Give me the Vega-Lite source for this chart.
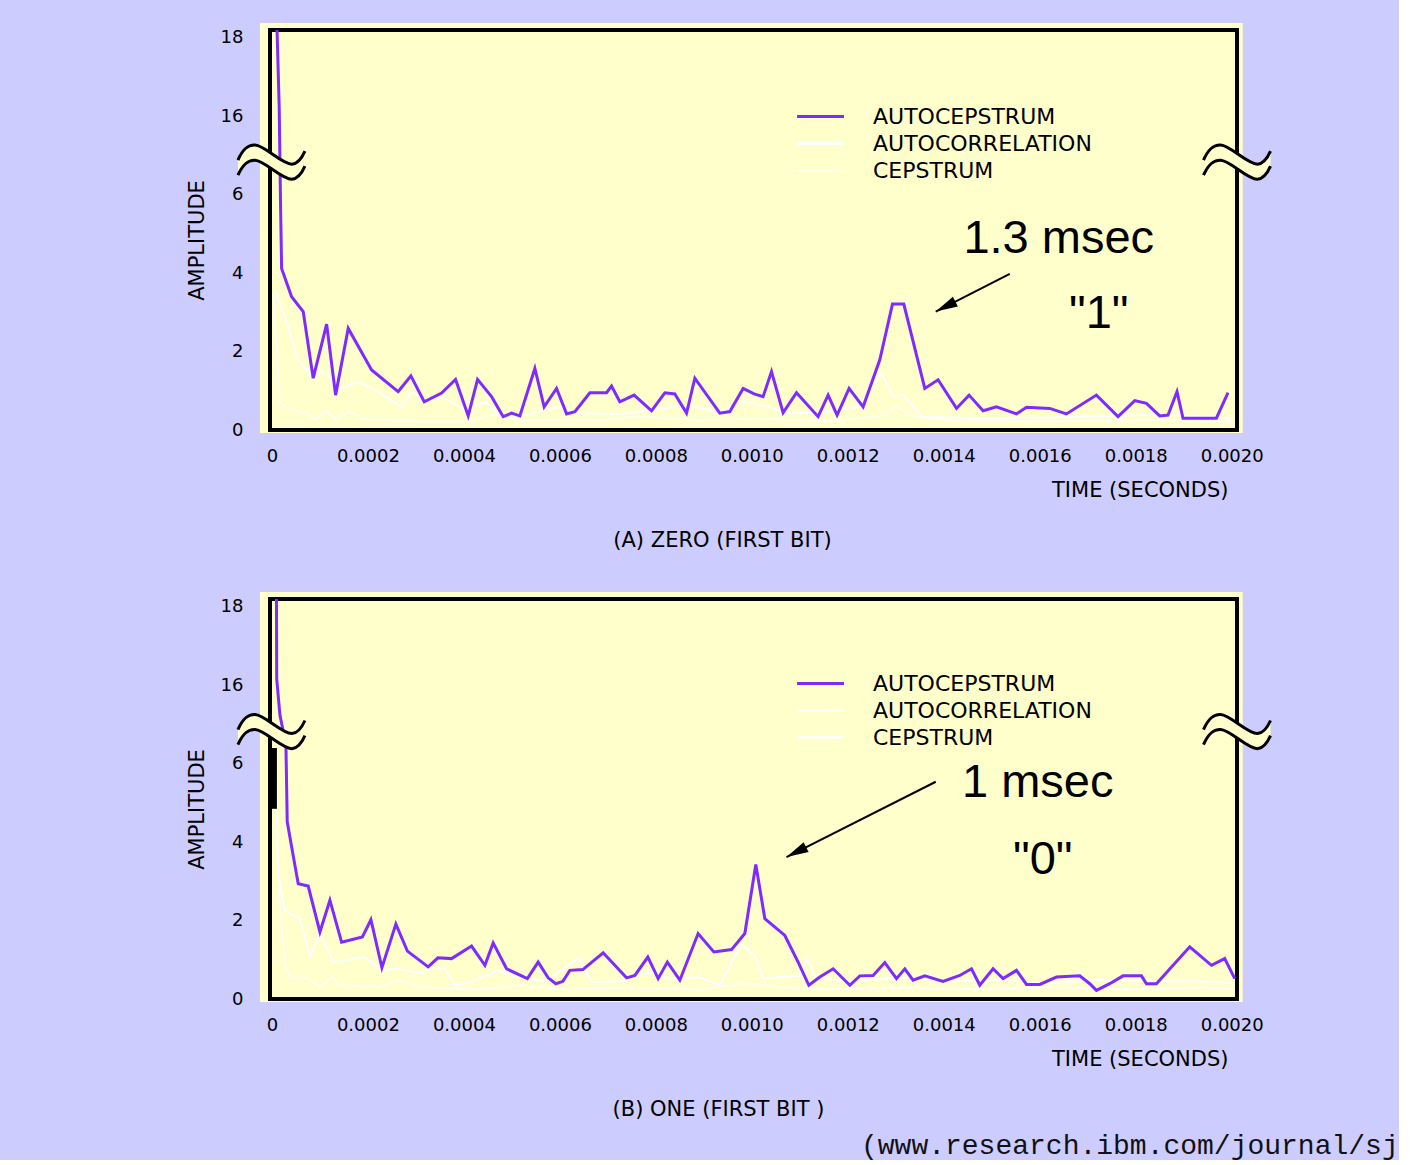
{
"$schema": "https://vega.github.io/schema/vega-lite/v6.json",
"background": "#ccccff",
"padding": {"left": 186, "top": 22, "right": 0, "bottom": 0},
"spacing": 40,
"title": {"text": "(www.research.ibm.com/journal/sj", "orient": "bottom", "anchor": "start", "frame": "bounds", "font": "Liberation Mono", "fontSize": 28, "fontWeight": "normal", "color": "#111", "dx": 675, "offset": 12},
"config": {
  "view": {"stroke": null, "fill": "#ffffcc"},
  "axis": {"grid": false, "domain": false, "ticks": false, "labelColor": "#000", "labelFont": "DejaVu Sans", "labelFontSize": 18, "titleFont": "DejaVu Sans", "titleFontSize": 21, "titleFontWeight": "normal", "titleColor": "#000", "labelOverlap": false},
  "axisX": {"labelExpr": "datum.value == 0 ? '0' : format(datum.value, '.4f')", "labelPadding": 17, "titleX": 958, "titleY": 60, "titleAlign": "right", "titleBaseline": "middle", "labelFlush": false, "labelBound": false},
  "axisY": {"titleX": -67, "titleY": 210, "titleAngle": 270, "titleAlign": "center", "titleBaseline": "alphabetic", "labelPadding": 27},
  "title": {"font": "DejaVu Sans", "fontSize": 21, "fontWeight": "normal", "color": "#000"}
},
"resolve": {"scale": {"color": "independent"}, "legend": {"color": "independent"}},
"datasets": {
"curves": [
{"panel":"A","series":"AUTOCEPSTRUM","time":0.0000098,"amplitude":18.6},
{"panel":"A","series":"AUTOCEPSTRUM","time":0.0000152,"amplitude":16.21},
{"panel":"A","series":"AUTOCEPSTRUM","time":0.0000181,"amplitude":5.66},
{"panel":"A","series":"AUTOCEPSTRUM","time":0.0000202,"amplitude":4.12},
{"panel":"A","series":"AUTOCEPSTRUM","time":0.0000410,"amplitude":3.40},
{"panel":"A","series":"AUTOCEPSTRUM","time":0.0000652,"amplitude":3.02},
{"panel":"A","series":"AUTOCEPSTRUM","time":0.0000860,"amplitude":1.32},
{"panel":"A","series":"AUTOCEPSTRUM","time":0.0001140,"amplitude":2.70},
{"panel":"A","series":"AUTOCEPSTRUM","time":0.0001327,"amplitude":0.89},
{"panel":"A","series":"AUTOCEPSTRUM","time":0.0001590,"amplitude":2.59},
{"panel":"A","series":"AUTOCEPSTRUM","time":0.0002077,"amplitude":1.53},
{"panel":"A","series":"AUTOCEPSTRUM","time":0.0002631,"amplitude":0.98},
{"panel":"A","series":"AUTOCEPSTRUM","time":0.0002896,"amplitude":1.38},
{"panel":"A","series":"AUTOCEPSTRUM","time":0.0003173,"amplitude":0.72},
{"panel":"A","series":"AUTOCEPSTRUM","time":0.0003535,"amplitude":0.94},
{"panel":"A","series":"AUTOCEPSTRUM","time":0.0003827,"amplitude":1.29},
{"panel":"A","series":"AUTOCEPSTRUM","time":0.0004090,"amplitude":0.36},
{"panel":"A","series":"AUTOCEPSTRUM","time":0.0004285,"amplitude":1.29},
{"panel":"A","series":"AUTOCEPSTRUM","time":0.0004577,"amplitude":0.85},
{"panel":"A","series":"AUTOCEPSTRUM","time":0.0004819,"amplitude":0.34},
{"panel":"A","series":"AUTOCEPSTRUM","time":0.0004994,"amplitude":0.43},
{"panel":"A","series":"AUTOCEPSTRUM","time":0.0005167,"amplitude":0.36},
{"panel":"A","series":"AUTOCEPSTRUM","time":0.0005479,"amplitude":1.57},
{"panel":"A","series":"AUTOCEPSTRUM","time":0.0005673,"amplitude":0.59},
{"panel":"A","series":"AUTOCEPSTRUM","time":0.0005931,"amplitude":1.06},
{"panel":"A","series":"AUTOCEPSTRUM","time":0.0006140,"amplitude":0.41},
{"panel":"A","series":"AUTOCEPSTRUM","time":0.0006313,"amplitude":0.47},
{"panel":"A","series":"AUTOCEPSTRUM","time":0.0006625,"amplitude":0.95},
{"panel":"A","series":"AUTOCEPSTRUM","time":0.0006973,"amplitude":0.95},
{"panel":"A","series":"AUTOCEPSTRUM","time":0.0007077,"amplitude":1.12},
{"panel":"A","series":"AUTOCEPSTRUM","time":0.0007250,"amplitude":0.72},
{"panel":"A","series":"AUTOCEPSTRUM","time":0.0007548,"amplitude":0.89},
{"panel":"A","series":"AUTOCEPSTRUM","time":0.0007910,"amplitude":0.49},
{"panel":"A","series":"AUTOCEPSTRUM","time":0.0008188,"amplitude":0.95},
{"panel":"A","series":"AUTOCEPSTRUM","time":0.0008396,"amplitude":0.92},
{"panel":"A","series":"AUTOCEPSTRUM","time":0.0008640,"amplitude":0.43},
{"panel":"A","series":"AUTOCEPSTRUM","time":0.0008813,"amplitude":1.32},
{"panel":"A","series":"AUTOCEPSTRUM","time":0.0009333,"amplitude":0.43},
{"panel":"A","series":"AUTOCEPSTRUM","time":0.0009542,"amplitude":0.47},
{"panel":"A","series":"AUTOCEPSTRUM","time":0.0009819,"amplitude":1.06},
{"panel":"A","series":"AUTOCEPSTRUM","time":0.0010048,"amplitude":0.92},
{"panel":"A","series":"AUTOCEPSTRUM","time":0.0010235,"amplitude":0.85},
{"panel":"A","series":"AUTOCEPSTRUM","time":0.0010410,"amplitude":1.49},
{"panel":"A","series":"AUTOCEPSTRUM","time":0.0010652,"amplitude":0.44},
{"panel":"A","series":"AUTOCEPSTRUM","time":0.0010931,"amplitude":0.95},
{"panel":"A","series":"AUTOCEPSTRUM","time":0.0011381,"amplitude":0.34},
{"panel":"A","series":"AUTOCEPSTRUM","time":0.0011590,"amplitude":0.89},
{"panel":"A","series":"AUTOCEPSTRUM","time":0.0011777,"amplitude":0.38},
{"panel":"A","series":"AUTOCEPSTRUM","time":0.0012027,"amplitude":1.06},
{"panel":"A","series":"AUTOCEPSTRUM","time":0.0012319,"amplitude":0.59},
{"panel":"A","series":"AUTOCEPSTRUM","time":0.0012667,"amplitude":1.79},
{"panel":"A","series":"AUTOCEPSTRUM","time":0.0012931,"amplitude":3.21},
{"panel":"A","series":"AUTOCEPSTRUM","time":0.0013167,"amplitude":3.21},
{"panel":"A","series":"AUTOCEPSTRUM","time":0.0013604,"amplitude":1.06},
{"panel":"A","series":"AUTOCEPSTRUM","time":0.0013881,"amplitude":1.28},
{"panel":"A","series":"AUTOCEPSTRUM","time":0.0014265,"amplitude":0.55},
{"panel":"A","series":"AUTOCEPSTRUM","time":0.0014527,"amplitude":0.89},
{"panel":"A","series":"AUTOCEPSTRUM","time":0.0014819,"amplitude":0.49},
{"panel":"A","series":"AUTOCEPSTRUM","time":0.0015098,"amplitude":0.59},
{"panel":"A","series":"AUTOCEPSTRUM","time":0.0015515,"amplitude":0.41},
{"panel":"A","series":"AUTOCEPSTRUM","time":0.0015723,"amplitude":0.58},
{"panel":"A","series":"AUTOCEPSTRUM","time":0.0016208,"amplitude":0.55},
{"panel":"A","series":"AUTOCEPSTRUM","time":0.0016556,"amplitude":0.41},
{"panel":"A","series":"AUTOCEPSTRUM","time":0.0017181,"amplitude":0.89},
{"panel":"A","series":"AUTOCEPSTRUM","time":0.0017631,"amplitude":0.34},
{"panel":"A","series":"AUTOCEPSTRUM","time":0.0017979,"amplitude":0.75},
{"panel":"A","series":"AUTOCEPSTRUM","time":0.0018223,"amplitude":0.68},
{"panel":"A","series":"AUTOCEPSTRUM","time":0.0018500,"amplitude":0.36},
{"panel":"A","series":"AUTOCEPSTRUM","time":0.0018673,"amplitude":0.38},
{"panel":"A","series":"AUTOCEPSTRUM","time":0.0018860,"amplitude":0.98},
{"panel":"A","series":"AUTOCEPSTRUM","time":0.0018985,"amplitude":0.30},
{"panel":"A","series":"AUTOCEPSTRUM","time":0.0019681,"amplitude":0.30},
{"panel":"A","series":"AUTOCEPSTRUM","time":0.0019923,"amplitude":0.95},
{"panel":"A","series":"AUTOCORRELATION","time":0.0000063,"amplitude":3.57},
{"panel":"A","series":"AUTOCORRELATION","time":0.0000271,"amplitude":2.89},
{"panel":"A","series":"AUTOCORRELATION","time":0.0000548,"amplitude":1.79},
{"panel":"A","series":"AUTOCORRELATION","time":0.0000854,"amplitude":1.36},
{"panel":"A","series":"AUTOCORRELATION","time":0.0001104,"amplitude":1.53},
{"panel":"A","series":"AUTOCORRELATION","time":0.0001348,"amplitude":1.02},
{"panel":"A","series":"AUTOCORRELATION","time":0.0001798,"amplitude":1.23},
{"panel":"A","series":"AUTOCORRELATION","time":0.0002215,"amplitude":0.98},
{"panel":"A","series":"AUTOCORRELATION","time":0.0002702,"amplitude":0.59},
{"panel":"A","series":"AUTOCORRELATION","time":0.0002910,"amplitude":0.98},
{"panel":"A","series":"AUTOCORRELATION","time":0.0003188,"amplitude":0.77},
{"panel":"A","series":"AUTOCORRELATION","time":0.0003604,"amplitude":0.81},
{"panel":"A","series":"AUTOCORRELATION","time":0.0004021,"amplitude":0.51},
{"panel":"A","series":"AUTOCORRELATION","time":0.0004438,"amplitude":0.72},
{"panel":"A","series":"AUTOCORRELATION","time":0.0004715,"amplitude":0.43},
{"panel":"A","series":"AUTOCORRELATION","time":0.0005131,"amplitude":0.34},
{"panel":"A","series":"AUTOCORRELATION","time":0.0005965,"amplitude":0.59},
{"panel":"A","series":"AUTOCORRELATION","time":0.0006452,"amplitude":0.43},
{"panel":"A","series":"AUTOCORRELATION","time":0.0007250,"amplitude":0.40},
{"panel":"A","series":"AUTOCORRELATION","time":0.0008396,"amplitude":0.59},
{"panel":"A","series":"AUTOCORRELATION","time":0.0008813,"amplitude":0.59},
{"panel":"A","series":"AUTOCORRELATION","time":0.0009333,"amplitude":0.45},
{"panel":"A","series":"AUTOCORRELATION","time":0.0009854,"amplitude":0.72},
{"panel":"A","series":"AUTOCORRELATION","time":0.0010375,"amplitude":0.59},
{"panel":"A","series":"AUTOCORRELATION","time":0.0010646,"amplitude":0.43},
{"panel":"A","series":"AUTOCORRELATION","time":0.0011417,"amplitude":0.45},
{"panel":"A","series":"AUTOCORRELATION","time":0.0012250,"amplitude":0.59},
{"panel":"A","series":"AUTOCORRELATION","time":0.0012702,"amplitude":1.45},
{"panel":"A","series":"AUTOCORRELATION","time":0.0012944,"amplitude":0.85},
{"panel":"A","series":"AUTOCORRELATION","time":0.0013152,"amplitude":0.89},
{"panel":"A","series":"AUTOCORRELATION","time":0.0013431,"amplitude":0.51},
{"panel":"A","series":"AUTOCORRELATION","time":0.0013563,"amplitude":0.34},
{"panel":"A","series":"AUTOCORRELATION","time":0.0014750,"amplitude":0.30},
{"panel":"A","series":"AUTOCORRELATION","time":0.0016208,"amplitude":0.32},
{"panel":"A","series":"AUTOCORRELATION","time":0.0017250,"amplitude":0.35},
{"panel":"A","series":"AUTOCORRELATION","time":0.0018500,"amplitude":0.40},
{"panel":"A","series":"AUTOCORRELATION","time":0.0020000,"amplitude":0.30},
{"panel":"A","series":"CEPSTRUM","time":0.0000027,"amplitude":3.49},
{"panel":"A","series":"CEPSTRUM","time":0.0000167,"amplitude":0.68},
{"panel":"A","series":"CEPSTRUM","time":0.0000479,"amplitude":0.47},
{"panel":"A","series":"CEPSTRUM","time":0.0000723,"amplitude":0.43},
{"panel":"A","series":"CEPSTRUM","time":0.0000896,"amplitude":0.26},
{"panel":"A","series":"CEPSTRUM","time":0.0001140,"amplitude":0.47},
{"panel":"A","series":"CEPSTRUM","time":0.0001348,"amplitude":0.26},
{"panel":"A","series":"CEPSTRUM","time":0.0001590,"amplitude":0.47},
{"panel":"A","series":"CEPSTRUM","time":0.0002006,"amplitude":0.26},
{"panel":"A","series":"CEPSTRUM","time":0.0003083,"amplitude":0.22},
{"panel":"A","series":"CEPSTRUM","time":0.0004125,"amplitude":0.22},
{"panel":"A","series":"CEPSTRUM","time":0.0004604,"amplitude":0.40},
{"panel":"A","series":"CEPSTRUM","time":0.0005167,"amplitude":0.24},
{"panel":"A","series":"CEPSTRUM","time":0.0006833,"amplitude":0.24},
{"panel":"A","series":"CEPSTRUM","time":0.0007667,"amplitude":0.35},
{"panel":"A","series":"CEPSTRUM","time":0.0008917,"amplitude":0.24},
{"panel":"A","series":"CEPSTRUM","time":0.0010167,"amplitude":0.30},
{"panel":"A","series":"CEPSTRUM","time":0.0011417,"amplitude":0.22},
{"panel":"A","series":"CEPSTRUM","time":0.0012667,"amplitude":0.35},
{"panel":"A","series":"CEPSTRUM","time":0.0013015,"amplitude":0.59},
{"panel":"A","series":"CEPSTRUM","time":0.0013396,"amplitude":0.35},
{"panel":"A","series":"CEPSTRUM","time":0.0014333,"amplitude":0.22},
{"panel":"A","series":"CEPSTRUM","time":0.0016208,"amplitude":0.22},
{"panel":"A","series":"CEPSTRUM","time":0.0018292,"amplitude":0.26},
{"panel":"A","series":"CEPSTRUM","time":0.0020000,"amplitude":0.22},
{"panel":"B","series":"AUTOCEPSTRUM","time":0.0000094,"amplitude":18.6},
{"panel":"B","series":"AUTOCEPSTRUM","time":0.0000100,"amplitude":16.16},
{"panel":"B","series":"AUTOCEPSTRUM","time":0.0000167,"amplitude":15.24},
{"panel":"B","series":"AUTOCEPSTRUM","time":0.0000292,"amplitude":6.48},
{"panel":"B","series":"AUTOCEPSTRUM","time":0.0000319,"amplitude":4.52},
{"panel":"B","series":"AUTOCEPSTRUM","time":0.0000479,"amplitude":3.41},
{"panel":"B","series":"AUTOCEPSTRUM","time":0.0000548,"amplitude":2.94},
{"panel":"B","series":"AUTOCEPSTRUM","time":0.0000756,"amplitude":2.88},
{"panel":"B","series":"AUTOCEPSTRUM","time":0.0001000,"amplitude":1.71},
{"panel":"B","series":"AUTOCEPSTRUM","time":0.0001208,"amplitude":2.52},
{"panel":"B","series":"AUTOCEPSTRUM","time":0.0001452,"amplitude":1.45},
{"panel":"B","series":"AUTOCEPSTRUM","time":0.0001885,"amplitude":1.58},
{"panel":"B","series":"AUTOCEPSTRUM","time":0.0002063,"amplitude":2.02},
{"panel":"B","series":"AUTOCEPSTRUM","time":0.0002292,"amplitude":0.80},
{"panel":"B","series":"AUTOCEPSTRUM","time":0.0002583,"amplitude":1.91},
{"panel":"B","series":"AUTOCEPSTRUM","time":0.0002823,"amplitude":1.22},
{"panel":"B","series":"AUTOCEPSTRUM","time":0.0003256,"amplitude":0.82},
{"panel":"B","series":"AUTOCEPSTRUM","time":0.0003458,"amplitude":1.05},
{"panel":"B","series":"AUTOCEPSTRUM","time":0.0003744,"amplitude":1.03},
{"panel":"B","series":"AUTOCEPSTRUM","time":0.0004160,"amplitude":1.35},
{"panel":"B","series":"AUTOCEPSTRUM","time":0.0004438,"amplitude":0.86},
{"panel":"B","series":"AUTOCEPSTRUM","time":0.0004610,"amplitude":1.43},
{"panel":"B","series":"AUTOCEPSTRUM","time":0.0004890,"amplitude":0.77},
{"panel":"B","series":"AUTOCEPSTRUM","time":0.0005323,"amplitude":0.52},
{"panel":"B","series":"AUTOCEPSTRUM","time":0.0005548,"amplitude":0.94},
{"panel":"B","series":"AUTOCEPSTRUM","time":0.0005756,"amplitude":0.54},
{"panel":"B","series":"AUTOCEPSTRUM","time":0.0005917,"amplitude":0.39},
{"panel":"B","series":"AUTOCEPSTRUM","time":0.0006063,"amplitude":0.45},
{"panel":"B","series":"AUTOCEPSTRUM","time":0.0006208,"amplitude":0.73},
{"panel":"B","series":"AUTOCEPSTRUM","time":0.0006479,"amplitude":0.75},
{"panel":"B","series":"AUTOCEPSTRUM","time":0.0006902,"amplitude":1.18},
{"panel":"B","series":"AUTOCEPSTRUM","time":0.0007390,"amplitude":0.54},
{"panel":"B","series":"AUTOCEPSTRUM","time":0.0007563,"amplitude":0.60},
{"panel":"B","series":"AUTOCEPSTRUM","time":0.0007833,"amplitude":1.07},
{"panel":"B","series":"AUTOCEPSTRUM","time":0.0008048,"amplitude":0.52},
{"panel":"B","series":"AUTOCEPSTRUM","time":0.0008240,"amplitude":0.94},
{"panel":"B","series":"AUTOCEPSTRUM","time":0.0008500,"amplitude":0.48},
{"panel":"B","series":"AUTOCEPSTRUM","time":0.0008881,"amplitude":1.67},
{"panel":"B","series":"AUTOCEPSTRUM","time":0.0009208,"amplitude":1.20},
{"panel":"B","series":"AUTOCEPSTRUM","time":0.0009577,"amplitude":1.26},
{"panel":"B","series":"AUTOCEPSTRUM","time":0.0009854,"amplitude":1.67},
{"panel":"B","series":"AUTOCEPSTRUM","time":0.0010083,"amplitude":3.43},
{"panel":"B","series":"AUTOCEPSTRUM","time":0.0010271,"amplitude":2.05},
{"panel":"B","series":"AUTOCEPSTRUM","time":0.0010688,"amplitude":1.62},
{"panel":"B","series":"AUTOCEPSTRUM","time":0.0010965,"amplitude":0.94},
{"panel":"B","series":"AUTOCEPSTRUM","time":0.0011188,"amplitude":0.35},
{"panel":"B","series":"AUTOCEPSTRUM","time":0.0011417,"amplitude":0.56},
{"panel":"B","series":"AUTOCEPSTRUM","time":0.0011694,"amplitude":0.77},
{"panel":"B","series":"AUTOCEPSTRUM","time":0.0012042,"amplitude":0.35},
{"panel":"B","series":"AUTOCEPSTRUM","time":0.0012250,"amplitude":0.59},
{"panel":"B","series":"AUTOCEPSTRUM","time":0.0012527,"amplitude":0.60},
{"panel":"B","series":"AUTOCEPSTRUM","time":0.0012771,"amplitude":0.93},
{"panel":"B","series":"AUTOCEPSTRUM","time":0.0013015,"amplitude":0.52},
{"panel":"B","series":"AUTOCEPSTRUM","time":0.0013188,"amplitude":0.77},
{"panel":"B","series":"AUTOCEPSTRUM","time":0.0013360,"amplitude":0.48},
{"panel":"B","series":"AUTOCEPSTRUM","time":0.0013604,"amplitude":0.59},
{"panel":"B","series":"AUTOCEPSTRUM","time":0.0013985,"amplitude":0.45},
{"panel":"B","series":"AUTOCEPSTRUM","time":0.0014333,"amplitude":0.60},
{"panel":"B","series":"AUTOCEPSTRUM","time":0.0014577,"amplitude":0.77},
{"panel":"B","series":"AUTOCEPSTRUM","time":0.0014750,"amplitude":0.35},
{"panel":"B","series":"AUTOCEPSTRUM","time":0.0015027,"amplitude":0.77},
{"panel":"B","series":"AUTOCEPSTRUM","time":0.0015235,"amplitude":0.52},
{"panel":"B","series":"AUTOCEPSTRUM","time":0.0015515,"amplitude":0.73},
{"panel":"B","series":"AUTOCEPSTRUM","time":0.0015723,"amplitude":0.37},
{"panel":"B","series":"AUTOCEPSTRUM","time":0.0016000,"amplitude":0.37},
{"panel":"B","series":"AUTOCEPSTRUM","time":0.0016348,"amplitude":0.56},
{"panel":"B","series":"AUTOCEPSTRUM","time":0.0016833,"amplitude":0.59},
{"panel":"B","series":"AUTOCEPSTRUM","time":0.0017042,"amplitude":0.39},
{"panel":"B","series":"AUTOCEPSTRUM","time":0.0017181,"amplitude":0.22},
{"panel":"B","series":"AUTOCEPSTRUM","time":0.0017458,"amplitude":0.39},
{"panel":"B","series":"AUTOCEPSTRUM","time":0.0017735,"amplitude":0.59},
{"panel":"B","series":"AUTOCEPSTRUM","time":0.0018119,"amplitude":0.59},
{"panel":"B","series":"AUTOCEPSTRUM","time":0.0018223,"amplitude":0.39},
{"panel":"B","series":"AUTOCEPSTRUM","time":0.0018431,"amplitude":0.39},
{"panel":"B","series":"AUTOCEPSTRUM","time":0.0019125,"amplitude":1.33},
{"panel":"B","series":"AUTOCEPSTRUM","time":0.0019577,"amplitude":0.86},
{"panel":"B","series":"AUTOCEPSTRUM","time":0.0019854,"amplitude":1.03},
{"panel":"B","series":"AUTOCEPSTRUM","time":0.0020063,"amplitude":0.52},
{"panel":"B","series":"AUTOCORRELATION","time":0.0000104,"amplitude":4.77},
{"panel":"B","series":"AUTOCORRELATION","time":0.0000131,"amplitude":3.16},
{"panel":"B","series":"AUTOCORRELATION","time":0.0000271,"amplitude":2.26},
{"panel":"B","series":"AUTOCORRELATION","time":0.0000583,"amplitude":2.05},
{"panel":"B","series":"AUTOCORRELATION","time":0.0000792,"amplitude":1.07},
{"panel":"B","series":"AUTOCORRELATION","time":0.0001000,"amplitude":1.67},
{"panel":"B","series":"AUTOCORRELATION","time":0.0001277,"amplitude":0.94},
{"panel":"B","series":"AUTOCORRELATION","time":0.0001938,"amplitude":1.07},
{"panel":"B","series":"AUTOCORRELATION","time":0.0002285,"amplitude":0.73},
{"panel":"B","series":"AUTOCORRELATION","time":0.0002598,"amplitude":0.77},
{"panel":"B","series":"AUTOCORRELATION","time":0.0003119,"amplitude":0.65},
{"panel":"B","series":"AUTOCORRELATION","time":0.0003327,"amplitude":0.82},
{"panel":"B","series":"AUTOCORRELATION","time":0.0003604,"amplitude":0.77},
{"panel":"B","series":"AUTOCORRELATION","time":0.0003813,"amplitude":0.35},
{"panel":"B","series":"AUTOCORRELATION","time":0.0004160,"amplitude":0.43},
{"panel":"B","series":"AUTOCORRELATION","time":0.0004715,"amplitude":0.73},
{"panel":"B","series":"AUTOCORRELATION","time":0.0005131,"amplitude":0.56},
{"panel":"B","series":"AUTOCORRELATION","time":0.0005688,"amplitude":0.45},
{"panel":"B","series":"AUTOCORRELATION","time":0.0006381,"amplitude":1.03},
{"panel":"B","series":"AUTOCORRELATION","time":0.0006660,"amplitude":0.43},
{"panel":"B","series":"AUTOCORRELATION","time":0.0007250,"amplitude":0.45},
{"panel":"B","series":"AUTOCORRELATION","time":0.0007910,"amplitude":0.69},
{"panel":"B","series":"AUTOCORRELATION","time":0.0008292,"amplitude":0.50},
{"panel":"B","series":"AUTOCORRELATION","time":0.0008881,"amplitude":0.56},
{"panel":"B","series":"AUTOCORRELATION","time":0.0009333,"amplitude":0.35},
{"panel":"B","series":"AUTOCORRELATION","time":0.0009785,"amplitude":1.41},
{"panel":"B","series":"AUTOCORRELATION","time":0.0010063,"amplitude":1.11},
{"panel":"B","series":"AUTOCORRELATION","time":0.0010235,"amplitude":0.52},
{"panel":"B","series":"AUTOCORRELATION","time":0.0011000,"amplitude":0.60},
{"panel":"B","series":"AUTOCORRELATION","time":0.0011140,"amplitude":1.03},
{"panel":"B","series":"AUTOCORRELATION","time":0.0011348,"amplitude":0.52},
{"panel":"B","series":"AUTOCORRELATION","time":0.0012042,"amplitude":0.45},
{"panel":"B","series":"AUTOCORRELATION","time":0.0013083,"amplitude":0.55},
{"panel":"B","series":"AUTOCORRELATION","time":0.0014125,"amplitude":0.45},
{"panel":"B","series":"AUTOCORRELATION","time":0.0015167,"amplitude":0.50},
{"panel":"B","series":"AUTOCORRELATION","time":0.0016208,"amplitude":0.40},
{"panel":"B","series":"AUTOCORRELATION","time":0.0017250,"amplitude":0.50},
{"panel":"B","series":"AUTOCORRELATION","time":0.0018292,"amplitude":0.45},
{"panel":"B","series":"AUTOCORRELATION","time":0.0019333,"amplitude":0.45},
{"panel":"B","series":"AUTOCORRELATION","time":0.0020063,"amplitude":0.40},
{"panel":"B","series":"CEPSTRUM","time":0.0000131,"amplitude":2.81},
{"panel":"B","series":"CEPSTRUM","time":0.0000271,"amplitude":0.94},
{"panel":"B","series":"CEPSTRUM","time":0.0000375,"amplitude":0.56},
{"panel":"B","series":"CEPSTRUM","time":0.0000756,"amplitude":0.52},
{"panel":"B","series":"CEPSTRUM","time":0.0001000,"amplitude":0.31},
{"panel":"B","series":"CEPSTRUM","time":0.0001277,"amplitude":0.56},
{"panel":"B","series":"CEPSTRUM","time":0.0001381,"amplitude":0.35},
{"panel":"B","series":"CEPSTRUM","time":0.0002250,"amplitude":0.30},
{"panel":"B","series":"CEPSTRUM","time":0.0002631,"amplitude":0.48},
{"panel":"B","series":"CEPSTRUM","time":0.0003083,"amplitude":0.30},
{"panel":"B","series":"CEPSTRUM","time":0.0004333,"amplitude":0.25},
{"panel":"B","series":"CEPSTRUM","time":0.0005167,"amplitude":0.35},
{"panel":"B","series":"CEPSTRUM","time":0.0006000,"amplitude":0.25},
{"panel":"B","series":"CEPSTRUM","time":0.0007250,"amplitude":0.30},
{"panel":"B","series":"CEPSTRUM","time":0.0008917,"amplitude":0.25},
{"panel":"B","series":"CEPSTRUM","time":0.0009958,"amplitude":0.40},
{"panel":"B","series":"CEPSTRUM","time":0.0010583,"amplitude":0.30},
{"panel":"B","series":"CEPSTRUM","time":0.0011625,"amplitude":0.25},
{"panel":"B","series":"CEPSTRUM","time":0.0013083,"amplitude":0.30},
{"panel":"B","series":"CEPSTRUM","time":0.0014750,"amplitude":0.25},
{"panel":"B","series":"CEPSTRUM","time":0.0016208,"amplitude":0.30},
{"panel":"B","series":"CEPSTRUM","time":0.0017875,"amplitude":0.25},
{"panel":"B","series":"CEPSTRUM","time":0.0019333,"amplitude":0.30},
{"panel":"B","series":"CEPSTRUM","time":0.0020063,"amplitude":0.25}
]
},
"vconcat": [
{
  "width": 967, "height": 400,
  "title": {"text": "(A) ZERO (FIRST BIT)", "orient": "bottom", "anchor": "middle", "frame": "group", "dx": -31, "offset": 30},
  "encoding": {
    "x": {"type": "quantitative", "scale": {"domain": [-0.000004, 0.002011], "nice": false, "zero": false}, "axis": {"values": [0, 0.0002, 0.0004, 0.0006, 0.0008, 0.001, 0.0012, 0.0014, 0.0016, 0.0018, 0.002], "title": "TIME (SECONDS)"}},
    "y": {"type": "quantitative", "scale": {"domain": [0, 7, 15, 18.2], "range": [400, 125.49, 125.49, 0], "nice": false, "zero": false}, "axis": {"values": [0, 2, 4, 6, 16, 18], "title": "AMPLITUDE"}}
  },
  "layer": [
    {"data": {"values": [{}]}, "mark": {"type": "rect", "fill": "#ffffcc"},
     "encoding": {"x": {"datum": -0.000025}, "x2": {"datum": 0.0020229}, "y": {"datum": 18.38}, "y2": {"datum": -0.0765}}},
    {"data": {"values": [{}]}, "mark": {"type": "rect", "filled": false, "stroke": "#000", "strokeWidth": 4},
     "encoding": {"x": {"datum": -0.000004}, "x2": {"datum": 0.002011}, "y": {"datum": 0}, "y2": {"datum": 18.2}}},
    {"data": {"name": "curves"}, "transform": [{"filter": "datum.panel == 'A' && datum.series != 'AUTOCEPSTRUM'"}],
     "mark": {"type": "line", "strokeWidth": 2, "clip": true},
     "encoding": {"x": {"field": "time"}, "y": {"field": "amplitude"},
                  "color": {"field": "series", "type": "nominal", "scale": {"domain": ["AUTOCEPSTRUM", "AUTOCORRELATION", "CEPSTRUM"], "range": ["#7f2bff", "#ffffff", "#fffff2"]},
                            "legend": {"orient": "none", "legendX": 537, "legendY": 73, "title": null, "symbolType": "M-2,0L2,0", "symbolSize": 552, "symbolStrokeWidth": 3, "labelFont": "DejaVu Sans", "labelFontSize": 22, "labelColor": "#000", "labelOffset": 39, "labelLimit": 400, "rowPadding": 2, "padding": 0, "symbolOpacity": 1}}}},
    {"data": {"name": "curves"}, "transform": [{"filter": "datum.panel == 'A' && datum.series == 'AUTOCEPSTRUM'"}],
     "mark": {"type": "line", "strokeWidth": 3, "clip": true},
     "encoding": {"x": {"field": "time"}, "y": {"field": "amplitude"},
                  "color": {"field": "series", "type": "nominal", "scale": {"domain": ["AUTOCEPSTRUM", "AUTOCORRELATION", "CEPSTRUM"], "range": ["#7f2bff", "#ffffff", "#fffff2"]},
                            "legend": {"orient": "none", "legendX": 537, "legendY": 73, "title": null, "symbolType": "M-2,0L2,0", "symbolSize": 552, "symbolStrokeWidth": 3, "labelFont": "DejaVu Sans", "labelFontSize": 22, "labelColor": "#000", "labelOffset": 39, "labelLimit": 400, "rowPadding": 2, "padding": 0, "symbolOpacity": 1}}}},
    {"data": {"values": [{}]}, "mark": {"type": "point", "shape": "M-1,-0.06C-0.85,-0.4,-0.7,-0.52,-0.49,-0.51C-0.2,-0.5,0.3,0.06,0.61,0.06C0.8,0.05,0.92,-0.15,1,-0.33L1,0.12C0.92,0.3,0.8,0.5,0.61,0.51C0.3,0.51,-0.2,-0.05,-0.49,-0.06C-0.7,-0.07,-0.85,0.05,-1,0.39Z", "size": 4489, "filled": true, "fill": "#ffffcc", "strokeWidth": 0, "opacity": 1},
     "encoding": {"x": {"datum": -0.000001}, "y": {"datum": 6.83}}},
    {"data": {"values": [{}]}, "mark": {"type": "point", "shape": "M-1,-0.06C-0.85,-0.4,-0.7,-0.52,-0.49,-0.51C-0.2,-0.5,0.3,0.06,0.61,0.06C0.8,0.05,0.92,-0.15,1,-0.33M-1,0.39C-0.85,0.05,-0.7,-0.07,-0.49,-0.06C-0.2,-0.05,0.3,0.51,0.61,0.51C0.8,0.5,0.92,0.3,1,0.12", "size": 4489, "filled": false, "stroke": "#000", "strokeWidth": 3, "opacity": 1},
     "encoding": {"x": {"datum": -0.000001}, "y": {"datum": 6.83}}},
    {"data": {"values": [{}]}, "mark": {"type": "point", "shape": "M-1,-0.06C-0.85,-0.4,-0.7,-0.52,-0.49,-0.51C-0.2,-0.5,0.3,0.06,0.61,0.06C0.8,0.05,0.92,-0.15,1,-0.33L1,0.12C0.92,0.3,0.8,0.5,0.61,0.51C0.3,0.51,-0.2,-0.05,-0.49,-0.06C-0.7,-0.07,-0.85,0.05,-1,0.39Z", "size": 4489, "filled": true, "fill": "#ffffcc", "strokeWidth": 0, "opacity": 1},
     "encoding": {"x": {"datum": 0.002011}, "y": {"datum": 6.83}}},
    {"data": {"values": [{}]}, "mark": {"type": "point", "shape": "M-1,-0.06C-0.85,-0.4,-0.7,-0.52,-0.49,-0.51C-0.2,-0.5,0.3,0.06,0.61,0.06C0.8,0.05,0.92,-0.15,1,-0.33M-1,0.39C-0.85,0.05,-0.7,-0.07,-0.49,-0.06C-0.2,-0.05,0.3,0.51,0.61,0.51C0.8,0.5,0.92,0.3,1,0.12", "size": 4489, "filled": false, "stroke": "#000", "strokeWidth": 3, "opacity": 1},
     "encoding": {"x": {"datum": 0.002011}, "y": {"datum": 6.83}}},
    {"data": {"values": [{}]}, "mark": {"type": "text", "text": "1.3 msec", "font": "Liberation Sans", "fontSize": 47, "align": "center", "baseline": "alphabetic", "color": "#000"},
     "encoding": {"x": {"datum": 0.0016396}, "y": {"datum": 4.52}}},
    {"data": {"values": [{}]}, "mark": {"type": "text", "text": "\"1\"", "font": "Liberation Sans", "fontSize": 47, "align": "center", "baseline": "alphabetic", "color": "#000"},
     "encoding": {"x": {"datum": 0.0017229}, "y": {"datum": 2.60}}},
    {"data": {"values": [{}]}, "mark": {"type": "rule", "color": "#000", "strokeWidth": 2},
     "encoding": {"x": {"datum": 0.0015375}, "y": {"datum": 3.98}, "x2": {"datum": 0.0013833}, "y2": {"datum": 3.02}}},
    {"data": {"values": [{}]}, "mark": {"type": "point", "shape": "M0,0L-0.25,1L0.25,1Z", "size": 1936, "angle": 243, "filled": true, "color": "#000", "opacity": 1},
     "encoding": {"x": {"datum": 0.0013833}, "y": {"datum": 3.02}}}
  ]
},
{
  "width": 967, "height": 400,
  "title": {"text": "(B) ONE (FIRST BIT )", "orient": "bottom", "anchor": "middle", "frame": "group", "dx": -35, "offset": 30},
  "encoding": {
    "x": {"type": "quantitative", "scale": {"domain": [-0.000004, 0.002011], "nice": false, "zero": false}, "axis": {"values": [0, 0.0002, 0.0004, 0.0006, 0.0008, 0.001, 0.0012, 0.0014, 0.0016, 0.0018, 0.002], "title": "TIME (SECONDS)"}},
    "y": {"type": "quantitative", "scale": {"domain": [0, 7, 15, 18.2], "range": [400, 125.49, 125.49, 0], "nice": false, "zero": false}, "axis": {"values": [0, 2, 4, 6, 16, 18], "title": "AMPLITUDE"}}
  },
  "layer": [
    {"data": {"values": [{}]}, "mark": {"type": "rect", "fill": "#ffffcc"},
     "encoding": {"x": {"datum": -0.000025}, "x2": {"datum": 0.0020229}, "y": {"datum": 18.38}, "y2": {"datum": -0.0765}}},
    {"data": {"values": [{}]}, "mark": {"type": "rect", "filled": false, "stroke": "#000", "strokeWidth": 4},
     "encoding": {"x": {"datum": -0.000004}, "x2": {"datum": 0.002011}, "y": {"datum": 0}, "y2": {"datum": 18.2}}},
    {"data": {"values": [{}]}, "mark": {"type": "rule", "color": "#000", "strokeWidth": 5},
     "encoding": {"x": {"datum": 0.0000052}, "y": {"datum": 4.85}, "y2": {"datum": 6.4}}},
    {"data": {"name": "curves"}, "transform": [{"filter": "datum.panel == 'B' && datum.series != 'AUTOCEPSTRUM'"}],
     "mark": {"type": "line", "strokeWidth": 2, "clip": true},
     "encoding": {"x": {"field": "time"}, "y": {"field": "amplitude"},
                  "color": {"field": "series", "type": "nominal", "scale": {"domain": ["AUTOCEPSTRUM", "AUTOCORRELATION", "CEPSTRUM"], "range": ["#7f2bff", "#ffffff", "#fffff2"]},
                            "legend": {"orient": "none", "legendX": 537, "legendY": 71, "title": null, "symbolType": "M-2,0L2,0", "symbolSize": 552, "symbolStrokeWidth": 3, "labelFont": "DejaVu Sans", "labelFontSize": 22, "labelColor": "#000", "labelOffset": 39, "labelLimit": 400, "rowPadding": 2, "padding": 0, "symbolOpacity": 1}}}},
    {"data": {"name": "curves"}, "transform": [{"filter": "datum.panel == 'B' && datum.series == 'AUTOCEPSTRUM'"}],
     "mark": {"type": "line", "strokeWidth": 3, "clip": true},
     "encoding": {"x": {"field": "time"}, "y": {"field": "amplitude"},
                  "color": {"field": "series", "type": "nominal", "scale": {"domain": ["AUTOCEPSTRUM", "AUTOCORRELATION", "CEPSTRUM"], "range": ["#7f2bff", "#ffffff", "#fffff2"]},
                            "legend": {"orient": "none", "legendX": 537, "legendY": 71, "title": null, "symbolType": "M-2,0L2,0", "symbolSize": 552, "symbolStrokeWidth": 3, "labelFont": "DejaVu Sans", "labelFontSize": 22, "labelColor": "#000", "labelOffset": 39, "labelLimit": 400, "rowPadding": 2, "padding": 0, "symbolOpacity": 1}}}},
    {"data": {"values": [{}]}, "mark": {"type": "point", "shape": "M-1,-0.06C-0.85,-0.4,-0.7,-0.52,-0.49,-0.51C-0.2,-0.5,0.3,0.06,0.61,0.06C0.8,0.05,0.92,-0.15,1,-0.33L1,0.12C0.92,0.3,0.8,0.5,0.61,0.51C0.3,0.51,-0.2,-0.05,-0.49,-0.06C-0.7,-0.07,-0.85,0.05,-1,0.39Z", "size": 4489, "filled": true, "fill": "#ffffcc", "strokeWidth": 0, "opacity": 1},
     "encoding": {"x": {"datum": -0.000001}, "y": {"datum": 6.82}}},
    {"data": {"values": [{}]}, "mark": {"type": "point", "shape": "M-1,-0.06C-0.85,-0.4,-0.7,-0.52,-0.49,-0.51C-0.2,-0.5,0.3,0.06,0.61,0.06C0.8,0.05,0.92,-0.15,1,-0.33M-1,0.39C-0.85,0.05,-0.7,-0.07,-0.49,-0.06C-0.2,-0.05,0.3,0.51,0.61,0.51C0.8,0.5,0.92,0.3,1,0.12", "size": 4489, "filled": false, "stroke": "#000", "strokeWidth": 3, "opacity": 1},
     "encoding": {"x": {"datum": -0.000001}, "y": {"datum": 6.82}}},
    {"data": {"values": [{}]}, "mark": {"type": "point", "shape": "M-1,-0.06C-0.85,-0.4,-0.7,-0.52,-0.49,-0.51C-0.2,-0.5,0.3,0.06,0.61,0.06C0.8,0.05,0.92,-0.15,1,-0.33L1,0.12C0.92,0.3,0.8,0.5,0.61,0.51C0.3,0.51,-0.2,-0.05,-0.49,-0.06C-0.7,-0.07,-0.85,0.05,-1,0.39Z", "size": 4489, "filled": true, "fill": "#ffffcc", "strokeWidth": 0, "opacity": 1},
     "encoding": {"x": {"datum": 0.002011}, "y": {"datum": 6.82}}},
    {"data": {"values": [{}]}, "mark": {"type": "point", "shape": "M-1,-0.06C-0.85,-0.4,-0.7,-0.52,-0.49,-0.51C-0.2,-0.5,0.3,0.06,0.61,0.06C0.8,0.05,0.92,-0.15,1,-0.33M-1,0.39C-0.85,0.05,-0.7,-0.07,-0.49,-0.06C-0.2,-0.05,0.3,0.51,0.61,0.51C0.8,0.5,0.92,0.3,1,0.12", "size": 4489, "filled": false, "stroke": "#000", "strokeWidth": 3, "opacity": 1},
     "encoding": {"x": {"datum": 0.002011}, "y": {"datum": 6.82}}},
    {"data": {"values": [{}]}, "mark": {"type": "text", "text": "1 msec", "font": "Liberation Sans", "fontSize": 47, "align": "center", "baseline": "alphabetic", "color": "#000"},
     "encoding": {"x": {"datum": 0.0015958}, "y": {"datum": 5.15}}},
    {"data": {"values": [{}]}, "mark": {"type": "text", "text": "\"0\"", "font": "Liberation Sans", "fontSize": 47, "align": "center", "baseline": "alphabetic", "color": "#000"},
     "encoding": {"x": {"datum": 0.0016063}, "y": {"datum": 3.19}}},
    {"data": {"values": [{}]}, "mark": {"type": "rule", "color": "#000", "strokeWidth": 2},
     "encoding": {"x": {"datum": 0.0013833}, "y": {"datum": 5.54}, "x2": {"datum": 0.0010723}, "y2": {"datum": 3.62}}},
    {"data": {"values": [{}]}, "mark": {"type": "point", "shape": "M0,0L-0.25,1L0.25,1Z", "size": 1936, "angle": 243, "filled": true, "color": "#000", "opacity": 1},
     "encoding": {"x": {"datum": 0.0010723}, "y": {"datum": 3.62}}}
  ]
}
]
}
